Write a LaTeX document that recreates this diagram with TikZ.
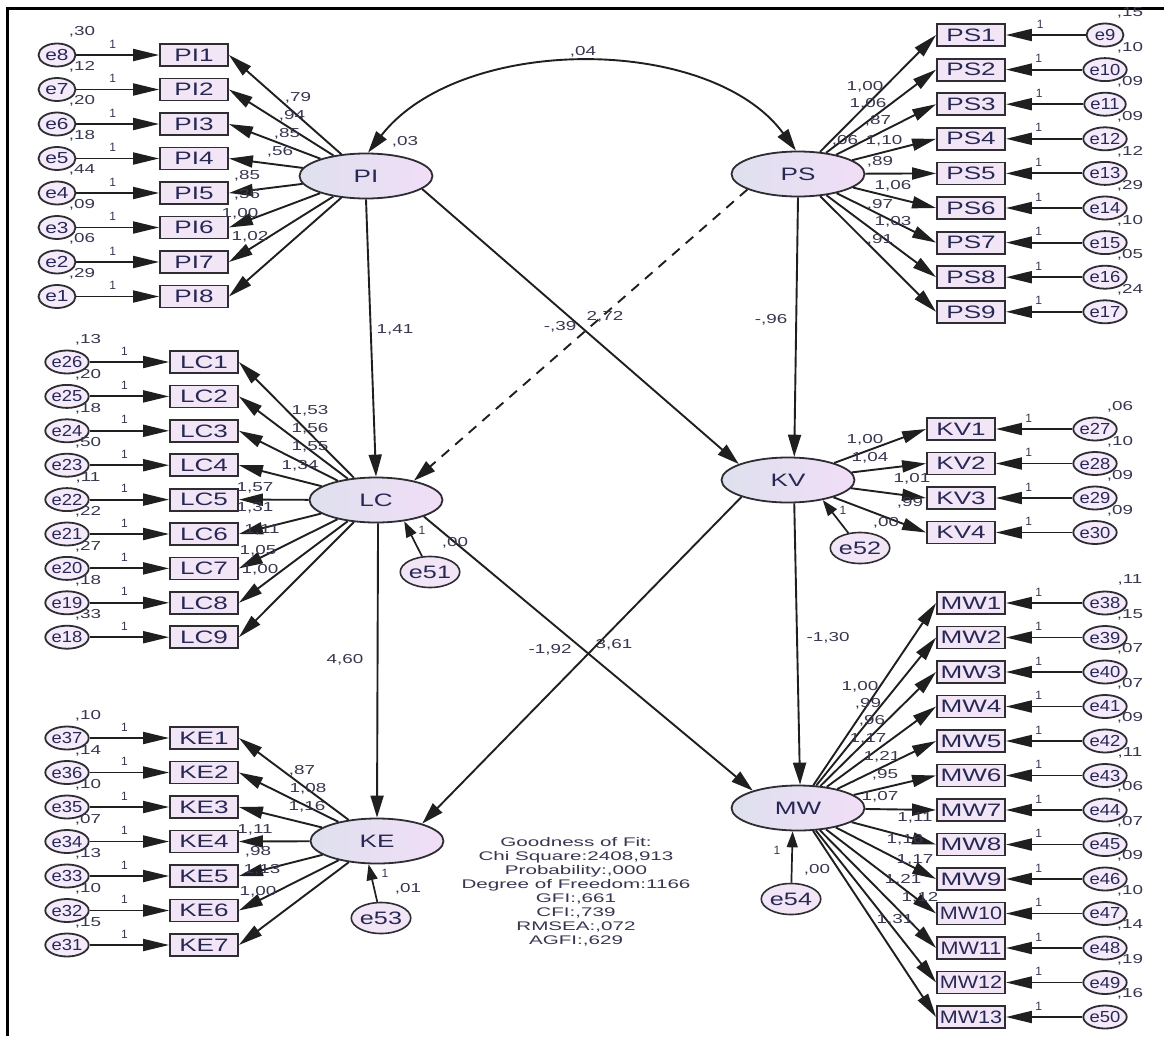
\documentclass[tikz,border=0pt]{standalone}
\usepackage{fontspec}
\setmainfont{Liberation Sans}
\usepackage{graphicx}
\usetikzlibrary{shapes.geometric,arrows.meta,calc}

\definecolor{txt}{RGB}{40,40,85}
\definecolor{lbl}{RGB}{55,55,80}
\definecolor{edge}{RGB}{45,45,50}
\definecolor{fillL}{RGB}{222,224,238}
\definecolor{fillR}{RGB}{241,222,247}
\definecolor{boxfill}{RGB}{242,230,246}
\definecolor{errfill}{RGB}{244,234,249}

\newcommand{\sx}[2]{\scalebox{#1}[1]{#2}}

\begin{document}
\begin{tikzpicture}[x=1pt,y=-1pt,
  latent/.style={ellipse, draw=edge, line width=1.8pt, minimum width=133pt, minimum height=45pt, inner sep=0pt, left color=fillL, right color=fillR, font=\fontsize{18}{18}\selectfont, text=txt},
  obs/.style={rectangle, draw=edge, line width=1.8pt, minimum width=68pt, minimum height=22pt, inner sep=0pt, fill=boxfill, font=\fontsize{18}{18}\selectfont, text=txt},
  err/.style={ellipse, draw=edge, line width=1.8pt, minimum width=37pt, minimum height=23pt, inner sep=0pt, fill=errfill, font=\fontsize{16}{16}\selectfont, text=txt},
  serr/.style={ellipse, draw=edge, line width=1.6pt, minimum width=52pt, minimum height=31pt, inner sep=0pt, fill=boxfill, font=\fontsize{18}{18}\selectfont, text=txt},
  num/.style={font=\fontsize{13}{13}\selectfont, text=lbl, inner sep=0pt},
  one/.style={font=\fontsize{12}{12}\selectfont, text=lbl, inner sep=0pt},
  arr/.style={line width=1.9pt, draw=black!88, -{Triangle[length=24pt,width=12pt]}},
  earr/.style={line width=1.9pt, draw=black!88, -{Triangle[length=26pt,width=12pt]}},
  sarr/.style={line width=1.9pt, draw=black!88, -{Triangle[length=22pt,width=13pt]}},
  smarr/.style={line width=1.7pt, draw=black!88, -{Triangle[length=16pt,width=11pt]}},
  gof/.style={align=center, font=\fontsize{12.5}{14}\selectfont, text=lbl, inner sep=0pt}
]
\useasboundingbox (0,0) rectangle (1164,1036);
\fill[white] (0,0) rectangle (1164,1036);
\draw[line width=3pt] (7,1036) -- (7,8) -- (1164,8);

% latent variables
\node[latent] (PI) at (366,176) {\sx{1.45}{PI}};
\node[latent] (PS) at (798,174) {\sx{1.45}{PS}};
\node[latent] (LC) at (376,500) {\sx{1.45}{LC}};
\node[latent] (KV) at (788,480) {\sx{1.45}{KV}};
\node[latent] (KE) at (377,841) {\sx{1.45}{KE}};
\node[latent] (MW) at (798,808) {\sx{1.45}{MW}};

% structural residuals
\node[serr] (e51) at (430,572) {\sx{1.4}{e51}};
\node[serr] (e52) at (860,548) {\sx{1.4}{e52}};
\node[serr] (e53) at (381,918) {\sx{1.4}{e53}};
\node[serr] (e54) at (791,899) {\sx{1.4}{e54}};

% PI block
\foreach \i/\e/\v in {1/8/{,30},2/7/{,12},3/6/{,20},4/5/{,18},5/4/{,44},6/3/{,09},7/2/{,06},8/1/{,29}}{
  \pgfmathsetmacro\yy{55+34.5*(\i-1)}
  \node[obs] (PI\i) at (194,\yy) {\sx{1.45}{PI\i}};
  \node[err] (ePI\i) at (57,\yy) {\sx{1.3}{e\e}};
  \draw[earr] (ePI\i) -- node[one,pos=0.44,above=6pt]{1} (PI\i);
  \node[num] at (82,\yy-23) {\sx{1.45}{\v}};
  \draw[arr] (PI) -- (PI\i.east);
}
% PS block
\foreach \i/\e/\v in {1/9/{,15},2/10/{,10},3/11/{,09},4/12/{,09},5/13/{,12},6/14/{,29},7/15/{,10},8/16/{,05},9/17/{,24}}{
  \pgfmathsetmacro\yy{35+34.6*(\i-1)}
  \node[obs] (PS\i) at (971,\yy) {\sx{1.45}{PS\i}};
  \node[err] (ePS\i) at (1105,\yy) {\sx{1.15}{e\e}};
  \draw[earr] (ePS\i) -- node[one,pos=0.57,above=6pt]{1} (PS\i);
  \node[num] at (1130,\yy-22) {\sx{1.45}{\v}};
  \draw[arr] (PS) -- (PS\i.west);
}
% LC block
\foreach \i/\e/\v in {1/26/{,13},2/25/{,20},3/24/{,18},4/23/{,50},5/22/{,11},6/21/{,22},7/20/{,27},8/19/{,18},9/18/{,33}}{
  \pgfmathsetmacro\yy{362+34.4*(\i-1)}
  \node[obs] (LC\i) at (204,\yy) {\sx{1.45}{LC\i}};
  \node[err] (eLC\i) at (67,\yy) {\sx{1.15}{e\e}};
  \draw[earr] (eLC\i) -- node[one,pos=0.44,above=6pt]{1} (LC\i);
  \node[num] at (88,\yy-22) {\sx{1.45}{\v}};
  \draw[arr] (LC) -- (LC\i.east);
}
% KE block
\foreach \i/\e/\v in {1/37/{,10},2/36/{,14},3/35/{,10},4/34/{,07},5/33/{,13},6/32/{,10},7/31/{,15}}{
  \pgfmathsetmacro\yy{738+34.5*(\i-1)}
  \node[obs] (KE\i) at (204,\yy) {\sx{1.45}{KE\i}};
  \node[err] (eKE\i) at (67,\yy) {\sx{1.15}{e\e}};
  \draw[earr] (eKE\i) -- node[one,pos=0.44,above=6pt]{1} (KE\i);
  \node[num] at (88,\yy-22) {\sx{1.45}{\v}};
  \draw[arr] (KE) -- (KE\i.east);
}
% KV block
\foreach \i/\e/\v in {1/27/{,06},2/28/{,10},3/29/{,09},4/30/{,09}}{
  \pgfmathsetmacro\yy{429+34.5*(\i-1)}
  \node[obs] (KV\i) at (961,\yy) {\sx{1.45}{KV\i}};
  \node[err] (eKV\i) at (1095,\yy) {\sx{1.15}{e\e}};
  \draw[earr] (eKV\i) -- node[one,pos=0.57,above=6pt]{1} (KV\i);
  \node[num] at (1120,\yy-22) {\sx{1.45}{\v}};
  \draw[arr] (KV) -- (KV\i.west);
}
% MW block
\foreach \i/\e/\v/\s in {1/38/{,11}/1.45,2/39/{,15}/1.45,3/40/{,07}/1.45,4/41/{,07}/1.45,5/42/{,09}/1.45,6/43/{,11}/1.45,7/44/{,06}/1.45,8/45/{,07}/1.45,9/46/{,09}/1.45,10/47/{,10}/1.2,11/48/{,14}/1.2,12/49/{,19}/1.2,13/50/{,16}/1.2}{
  \pgfmathsetmacro\yy{603+34.5*(\i-1)}
  \node[obs] (MW\i) at (971,\yy) {\sx{\s}{MW\i}};
  \node[err] (eMW\i) at (1105,\yy) {\sx{1.15}{e\e}};
  \draw[earr] (eMW\i) -- node[one,pos=0.57,above=6pt]{1} (MW\i);
  \node[num] at (1130,\yy-23) {\sx{1.45}{\v}};
  \draw[arr] (MW) -- (MW\i.west);
}

% covariance
\draw[line width=1.9pt, draw=black!88, {Triangle[length=22pt,width=13pt]}-{Triangle[length=22pt,width=13pt]}] (PI.85) .. controls (460,34) and (710,34) .. (PS.95);

% structural paths
\draw[sarr] (PI.south) -- (LC.north);
\draw[sarr] (PI.-13) -- (KV.162);
\draw[sarr, dash pattern=on 10pt off 8pt] (PS.197) -- (LC.27);
\draw[sarr] (PS.south) -- (KV.75);
\draw[sarr] (KV.-75) -- (MW.85);
\draw[sarr] (LC.-85) -- (KE.north);
\draw[sarr] (LC.-19) -- (MW.159);
\draw[sarr] (KV.200) -- (KE.21);
\draw[smarr] (e51) -- (LC.-37);
\draw[smarr] (e52) -- (KV.-30);
\draw[smarr] (e53) -- (KE.-110);
\draw[smarr] (e54) -- (MW.-103);

% PI loadings / variance
\node[num] at (298,98) {\sx{1.45}{,79}};
\node[num] at (292,116) {\sx{1.45}{,94}};
\node[num] at (287,134) {\sx{1.45}{,85}};
\node[num] at (280,152) {\sx{1.45}{,56}};
\node[num] at (247,176) {\sx{1.45}{,85}};
\node[num] at (247,195) {\sx{1.45}{,36}};
\node[num] at (240,214) {\sx{1.45}{1,00}};
\node[num] at (250,237) {\sx{1.45}{1,02}};
\node[num] at (405,142) {\sx{1.45}{,03}};
% PS loadings / variance
\node[num] at (865,87) {\sx{1.45}{1,00}};
\node[num] at (868,104) {\sx{1.45}{1,06}};
\node[num] at (878,121) {\sx{1.45}{,87}};
\node[num] at (845,141) {\sx{1.45}{,06}};
\node[num] at (884,141) {\sx{1.45}{1,10}};
\node[num] at (880,162) {\sx{1.45}{,89}};
\node[num] at (893,186) {\sx{1.45}{1,06}};
\node[num] at (880,205) {\sx{1.45}{,97}};
\node[num] at (893,222) {\sx{1.45}{1,03}};
\node[num] at (880,240) {\sx{1.45}{,91}};
% covariance
\node[num] at (583,52) {\sx{1.45}{,04}};
% LC loadings
\node[num] at (310,411) {\sx{1.45}{1,53}};
\node[num] at (310,429) {\sx{1.45}{1,56}};
\node[num] at (310,447) {\sx{1.45}{1,55}};
\node[num] at (300,466) {\sx{1.45}{1,34}};
\node[num] at (255,488) {\sx{1.45}{1,57}};
\node[num] at (255,508) {\sx{1.45}{1,31}};
\node[num] at (262,530) {\sx{1.45}{1,11}};
\node[num] at (258,551) {\sx{1.45}{1,05}};
\node[num] at (260,570) {\sx{1.45}{1,00}};
% KE loadings
\node[num] at (302,771) {\sx{1.45}{,87}};
\node[num] at (308,789) {\sx{1.45}{1,08}};
\node[num] at (307,807) {\sx{1.45}{1,16}};
\node[num] at (255,830) {\sx{1.45}{1,11}};
\node[num] at (258,852) {\sx{1.45}{,98}};
\node[num] at (262,870) {\sx{1.45}{1,13}};
\node[num] at (258,892) {\sx{1.45}{1,00}};
% KV loadings
\node[num] at (865,440) {\sx{1.45}{1,00}};
\node[num] at (870,458) {\sx{1.45}{1,04}};
\node[num] at (912,479) {\sx{1.45}{1,01}};
\node[num] at (910,503) {\sx{1.45}{,99}};
% MW loadings
\node[num] at (860,687) {\sx{1.45}{1,00}};
\node[num] at (868,704) {\sx{1.45}{,99}};
\node[num] at (872,721) {\sx{1.45}{,96}};
\node[num] at (868,739) {\sx{1.45}{1,17}};
\node[num] at (882,757) {\sx{1.45}{1,21}};
\node[num] at (885,775) {\sx{1.45}{,95}};
\node[num] at (880,797) {\sx{1.45}{1,07}};
\node[num] at (915,818) {\sx{1.45}{1,11}};
\node[num] at (905,840) {\sx{1.45}{1,16}};
\node[num] at (915,860) {\sx{1.45}{1,17}};
\node[num] at (903,880) {\sx{1.45}{1,21}};
\node[num] at (920,898) {\sx{1.45}{1,12}};
\node[num] at (895,920) {\sx{1.45}{1,31}};
% structural coefficients
\node[num] at (395,330) {\sx{1.45}{1,41}};
\node[num] at (560,327) {\sx{1.45}{-,39}};
\node[num] at (605,317) {\sx{1.45}{2,72}};
\node[num] at (771,320) {\sx{1.45}{-,96}};
\node[num] at (345,660) {\sx{1.45}{4,60}};
\node[num] at (550,650) {\sx{1.45}{-1,92}};
\node[num] at (614,645) {\sx{1.45}{3,61}};
\node[num] at (828,638) {\sx{1.45}{-1,30}};
% residual labels
\node[one] at (422,530) {1};
\node[num] at (455,543) {\sx{1.45}{,00}};
\node[one] at (843,510) {1};
\node[num] at (886,523) {\sx{1.45}{,00}};
\node[one] at (385,873) {1};
\node[num] at (408,889) {\sx{1.45}{,01}};
\node[one] at (777,850) {1};
\node[num] at (817,870) {\sx{1.45}{,00}};

% goodness of fit
\node[gof] (fit) at (576,892) {\sx{1.65}{Goodness of Fit:}\\ \sx{1.65}{Chi Square:2408,913}\\ \sx{1.65}{Probability:,000}\\ \sx{1.65}{Degree of Freedom:1166}\\ \sx{1.65}{GFI:,661}\\ \sx{1.65}{CFI:,739}\\ \sx{1.65}{RMSEA:,072}\\ \sx{1.65}{AGFI:,629}};
\end{tikzpicture}
\end{document}
